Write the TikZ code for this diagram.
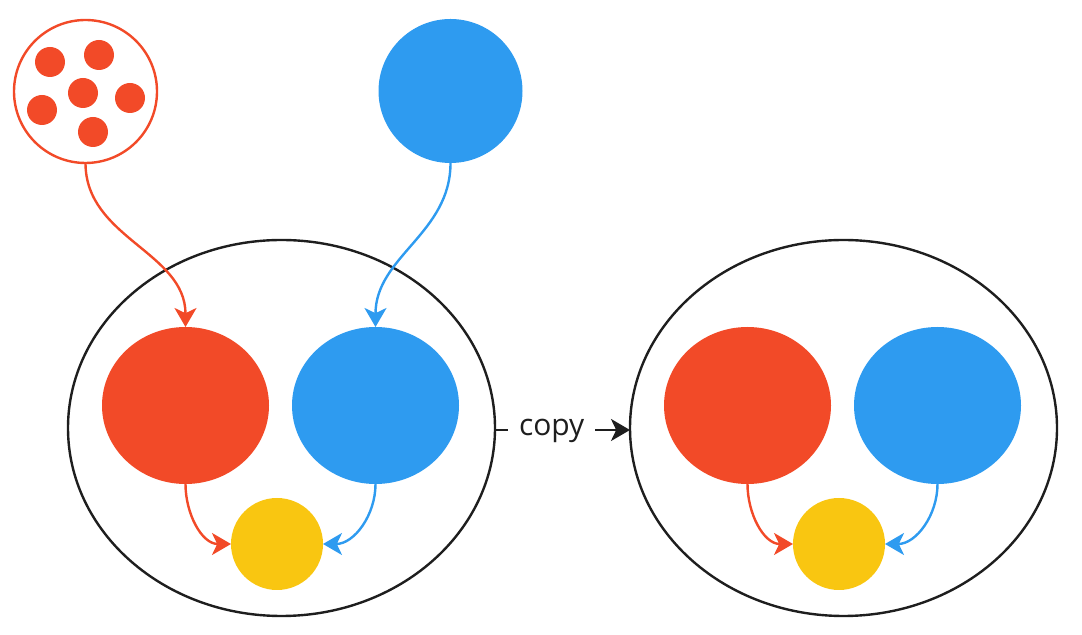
\documentclass[tikz,border=0pt]{standalone}
\usepackage{fontspec}
\setmainfont{Open Sans}
\usetikzlibrary{arrows.meta,shapes.geometric,positioning}
\definecolor{tomato}{HTML}{F24A28}
\definecolor{sky}{HTML}{2E9BF0}
\definecolor{sun}{HTML}{F9C611}
\definecolor{ink}{HTML}{1E1E1E}

\begin{document}
\begin{tikzpicture}[x=0.5pt,y=-0.5pt,
	every node/.style={inner sep=0pt,outer sep=0pt},
	blob/.style={ellipse,minimum width=83.5pt,minimum height=78.5pt},
	dot/.style={circle,fill=tomato,minimum size=15pt},
	mapbox/.style={ellipse,draw=ink,line width=1.2pt,minimum width=213.5pt,minimum height=188pt},
	link/.style={line width=1.2pt,-{Stealth[length=9.5pt,width=11pt,inset=2.6pt]}}]

	\useasboundingbox (0,0) rectangle (1082,635);

	% sources
	\node[circle,draw=tomato,line width=1.2pt,minimum size=71.5pt] (pool) at (85.5,91.5) {};
	\node[dot] (d1) at (50,62) {};
	\node[dot] (d2) at (99,55) {};
	\node[dot] (d3) at (83,93) {};
	\node[dot] (d4) at (130,98) {};
	\node[dot] (d5) at (42,110) {};
	\node[dot] (d6) at (93,132) {};
	\node[circle,fill=sky,minimum size=72pt] (single) at (450.5,91) {};

	% first map
	\node[mapbox] (mapA) at (281.5,428) {};
	\node[blob,fill=tomato] (redA) at (185.5,405.5) {};
	\node[blob,fill=sky,right=11.5pt of redA] (blueA) {};
	\node[circle,fill=sun,minimum size=46pt] (sunA) at (277,544) {};

	% second map
	\node[mapbox] (mapB) at (843.5,428) {};
	\node[blob,fill=tomato] (redB) at (747.5,405.5) {};
	\node[blob,fill=sky,right=11.5pt of redB] (blueB) {};
	\node[circle,fill=sun,minimum size=46pt] (sunB) at (839,544) {};

	\draw[link,tomato] (pool.south) to[out=-90,in=90] (redA.north);
	\draw[link,sky] (single.south) to[out=-90,in=90] (blueA.north);
	\draw[link,tomato] (redA.south) to[out=-90,in=180] (sunA.west);
	\draw[link,sky] (blueA.south) to[out=-90,in=0] (sunA.east);
	\draw[link,tomato] (redB.south) to[out=-90,in=180] (sunB.west);
	\draw[link,sky] (blueB.south) to[out=-90,in=0] (sunB.east);

	\draw[link,ink] ([yshift=-1pt]mapA.east) -- ([yshift=-1pt]mapB.west)
		node[pos=0.42,anchor=mid,fill=white,inner xsep=5.5pt,inner ysep=2pt,font=\fontsize{15}{17}\selectfont,text=ink] {copy};
\end{tikzpicture}
\end{document}
